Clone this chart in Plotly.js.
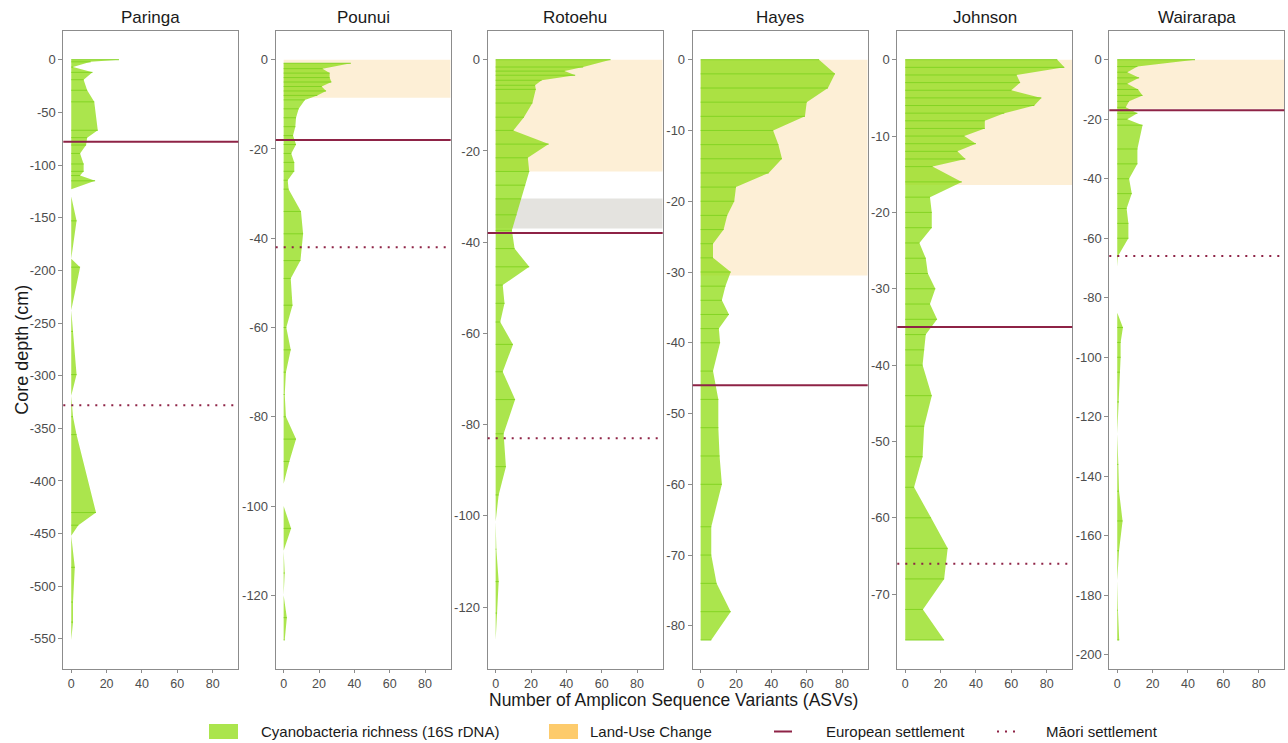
<!DOCTYPE html>
<html>
<head>
<meta charset="utf-8">
<script src="https://cdn.plot.ly/plotly-3.0.1.min.js"></script>
<style>
  html, body { margin: 0; padding: 0; background: #ffffff; }
  #chart { width: 1288px; height: 743px; }
</style>
</head>
<body>
<div id="chart"></div>
<script>
// ---- Data -------------------------------------------------------------
const lakes = ["Paringa", "Pounui", "Rotoehu", "Hayes", "Johnson", "Wairarapa"];

// Core depth (cm, negative downwards) and cyanobacterial ASV richness per sample
const paringaDepth = [0, -2, -7, -12, -19, -29, -40, -67, -74, -81, -89, -99, -106, -110, -115, -123,
                      -130, -153, -189, -197, -238, -258, -299, -319, -339, -356, -430, -442, -452, -482, -515, -534, -551];
const paringaASV   = [27, 11, 1, 12, 7, 9, 13, 15, 9, 8.4, 5, 7, 7, 5, 13.5, 0,
                      0, 3, 0, 5, 0, 1, 3, 0, 1, 3, 14, 4, 0, 2, 1, 1, 0];

const pounuiDepth = [-0.8, -2, -3, -4, -5, -6, -7, -8, -9, -11, -13, -15, -17, -19, -21, -23, -25, -27, -29,
                     -34, -39, -45, -49, -55, -60, -65, -70, -75, -80, -85, -90, -95, -100, -105, -110, -115, -120, -125, -130];
const pounuiASV   = [38, 22, 26, 26, 27, 21.5, 24, 19, 12, 8.5, 7, 6.6, 5.3, 7, 4.3, 6, 6, 2.3, 2.8,
                     9.8, 11, 9.5, 4, 5, 1.5, 4, 1.3, 0.6, 1.3, 7, 3.2, 0, 0, 4.2, 0, 0.6, 0, 1.8, 0.6];

const rotoehuDepth = [0, -1.6, -2.5, -3.4, -4.5, -5.6, -6.5, -9.5, -12.6, -15.5, -18.5, -21.5, -24.5, -27.5, -30.5, -34,
                      -37.4, -41.4, -45.4, -49.4, -53.4, -57.5, -62.4, -68.4, -74.5, -82, -89.2, -95.4, -101.2, -107.3, -114.4, -121.3, -127.2];
const rotoehuASV   = [65, 49.5, 39, 45, 26, 22.3, 22.7, 20.8, 16, 10, 30, 18.2, 19, 16.7, 14.3, 11.8,
                      9.2, 10.7, 19, 4, 5, 2.6, 9.8, 4, 11, 4.5, 5.8, 1.7, 0, 0.4, 1.7, 0.8, 0];

const hayesDepth = [0, -2, -4, -6, -8, -10, -12, -14, -16, -18, -20, -22, -24, -26, -28, -30, -32, -34, -36, -38, -40,
                    -44, -48, -52, -56, -60, -66, -70, -74, -78, -82];
const hayesASV   = [67, 76, 72, 60, 59, 41, 44, 46, 38.5, 20, 19, 15, 13, 7, 7, 17, 14, 12, 16, 10.3, 11,
                    7, 10, 10, 10.7, 12, 6, 6, 9, 17, 6];

const johnsonDepth = [0, -1, -2, -3, -4, -5, -6, -7, -8, -9, -10, -11, -12, -13, -14, -16, -18, -20, -22, -24, -26, -28,
                      -30, -32, -34, -36, -38, -40, -44, -48, -52, -56, -60, -64, -68, -72, -76];
const johnsonASV   = [86, 90, 63, 65, 60, 77, 73, 56, 45, 45, 33.4, 40, 29.5, 34, 15.4, 32, 14, 15, 15, 8, 11.6, 12.8,
                      17, 14, 18, 11.6, 10.7, 9.8, 15, 10.7, 9.8, 5, 14.6, 24, 22, 10, 22];

const wairarapaDepth = [0, -2.3, -4.2, -6.1, -8.1, -10, -12, -14, -16, -18, -20, -22, -30, -35, -40, -45, -50, -55, -60,
                        -66, -69.6, -85, -90, -95, -100, -105, -115, -125.6, -136, -145, -155, -165, -175, -181.5, -185, -195];
const wairarapaASV   = [44, 11.4, 5.7, 12.4, 5.7, 11.8, 14.3, 6.7, 4.8, 11.4, 5.7, 14.3, 11.4, 11.4, 6.7, 8.2, 5.3, 6.3, 6.3,
                        0.4, 0, 0, 3.2, 1.9, 1.9, 1.5, 1, 0, 0.6, 1, 3, 1, 0, 0, 0.4, 1.1];

const depths = [paringaDepth, pounuiDepth, rotoehuDepth, hayesDepth, johnsonDepth, wairarapaDepth];
const richness = [paringaASV, pounuiASV, rotoehuASV, hayesASV, johnsonASV, wairarapaASV];

// Settlement horizons (cm); null where not present
const europeanDepth = [-78, -18, -38, -46, -35, -17];
const maoriDepth    = [-328, -42, -83, null, -66, -66];

// Land-use change band (top, bottom) in cm; null where not present
const landUseTop    = [null, 0, 0, 0, 0, 0];
const landUseBottom = [null, -8.5, -24.5, -30.5, -16.4, -16.5];

// Additional grey band in the Rotoehu core (top, bottom)
const greyBandLake = "Rotoehu";
const greyBand = [-30.4, -37.0];

// Axis tick steps
const depthTickStep = [50, 20, 20, 10, 10, 20];
const asvTicks = [0, 20, 40, 60, 80];
const asvLimits = [0, 90];

// Legend labels
const legendLabels = ["Cyanobacteria richness (16S rDNA)", "Land-Use Change", "European settlement", "Māori settlement"];

// ---- Styling / geometry ------------------------------------------------
const W = 1288, H = 743;
const FONT = "Liberation Sans, Arial, Helvetica, sans-serif";
const panelLeftPx = [63.3, 275.7, 487.7, 692.7, 897.3, 1109.3];
const panelWidthPx = 175;
const plotTopPx = 30.7, plotBottomPx = 669;
const GREEN_FILL = "rgba(143,220,18,0.75)";
const GREEN_LINE = "#84D424";
const PEACH = "#FDEFD6";
const ORANGE = "#FDCB6C";
const GREYBAND = "#E4E3DF";
const MAROON = "#8E2346";
const FRAME = "#8c8c8c";

const px = x => x / W;
const py = y => (H - y) / H;

const xPad = (asvLimits[1] - asvLimits[0]) * 0.05;
const xRange = [asvLimits[0] - xPad, asvLimits[1] + xPad];

const traces = [];
const shapes = [];
const annotations = [];
const layout = {
  width: W, height: H,
  margin: {l: 0, r: 0, t: 0, b: 0},
  paper_bgcolor: "#ffffff",
  plot_bgcolor: "#ffffff",
  showlegend: false,
  font: {family: FONT, color: "#1a1a1a"},
  shapes: shapes,
  annotations: annotations
};

lakes.forEach((lake, i) => {
  const n = i + 1;
  const xa = n === 1 ? "x" : "x" + n;
  const ya = n === 1 ? "y" : "y" + n;
  const xKey = n === 1 ? "xaxis" : "xaxis" + n;
  const yKey = n === 1 ? "yaxis" : "yaxis" + n;

  const d = depths[i];
  const v = richness[i];
  const dMin = Math.min(...d), dMax = Math.max(0, ...d);
  const span = dMax - dMin;
  const yRange = [dMin - 0.05 * span, dMax + 0.05 * span];

  // richness profile as a filled area against x = 0
  traces.push({
    type: "scatter", mode: "lines",
    x: v, y: d,
    xaxis: xa, yaxis: ya,
    fill: "tozerox", fillcolor: GREEN_FILL,
    line: {width: 0, color: GREEN_FILL},
    hoverinfo: "skip"
  });

  // one horizontal stroke per sample, from 0 to the sample value
  const sx = [], sy = [];
  d.forEach((depth, k) => { sx.push(0, v[k], null); sy.push(depth, depth, null); });
  traces.push({
    type: "scatter", mode: "lines",
    x: sx, y: sy,
    xaxis: xa, yaxis: ya,
    line: {width: 1, color: GREEN_LINE},
    hoverinfo: "skip"
  });

  const left = panelLeftPx[i];
  layout[xKey] = {
    domain: [px(left), px(left + panelWidthPx)],
    range: xRange,
    anchor: ya,
    tickmode: "array",
    tickvals: asvTicks,
    ticktext: asvTicks.map(String),
    ticks: "outside", ticklen: 3, tickwidth: 1, tickcolor: FRAME,
    showline: true, mirror: true, linecolor: FRAME, linewidth: 1,
    showgrid: false, zeroline: false,
    tickfont: {family: FONT, size: 12.5, color: "#4d4d4d"},
    fixedrange: true
  };

  const yt = [];
  for (let t = 0; t >= yRange[0]; t -= depthTickStep[i]) yt.push(t);
  layout[yKey] = {
    domain: [py(plotBottomPx), py(plotTopPx)],
    range: yRange,
    anchor: xa,
    tickmode: "array",
    tickvals: yt,
    ticktext: yt.map(String),
    ticks: "outside", ticklen: 4, tickwidth: 1, tickcolor: FRAME,
    showline: true, mirror: true, linecolor: FRAME, linewidth: 1,
    showgrid: false, zeroline: false,
    tickfont: {family: FONT, size: 13, color: "#4d4d4d"},
    fixedrange: true
  };

  // land-use change band
  if (landUseTop[i] !== null) {
    shapes.push({
      type: "rect", layer: "below", xref: xa, yref: ya,
      x0: 0, x1: xRange[1], y0: landUseBottom[i], y1: landUseTop[i],
      fillcolor: PEACH, line: {width: 0}
    });
  }
  if (lake === greyBandLake) {
    shapes.push({
      type: "rect", layer: "below", xref: xa, yref: ya,
      x0: 0, x1: xRange[1], y0: greyBand[1], y1: greyBand[0],
      fillcolor: GREYBAND, line: {width: 0}
    });
  }

  // settlement horizons
  if (europeanDepth[i] !== null) {
    shapes.push({
      type: "line", layer: "above", xref: xa + " domain", yref: ya,
      x0: 0, x1: 1, y0: europeanDepth[i], y1: europeanDepth[i],
      line: {color: MAROON, width: 2}
    });
  }
  if (maoriDepth[i] !== null) {
    shapes.push({
      type: "line", layer: "above", xref: xa + " domain", yref: ya,
      x0: 0, x1: 1, y0: maoriDepth[i], y1: maoriDepth[i],
      line: {color: MAROON, width: 2, dash: "2px,6px"}
    });
  }

  // panel title
  annotations.push({
    xref: "paper", yref: "paper",
    x: px(left + panelWidthPx / 2), y: py(18),
    xanchor: "center", yanchor: "middle",
    text: lake, showarrow: false,
    font: {family: FONT, size: 17, color: "#1a1a1a"}
  });
});

// axis titles
annotations.push({
  xref: "paper", yref: "paper",
  x: px(22), y: py((plotTopPx + plotBottomPx) / 2),
  xanchor: "center", yanchor: "middle", textangle: -90,
  text: "Core depth (cm)", showarrow: false,
  font: {family: FONT, size: 18, color: "#1a1a1a"}
});
annotations.push({
  xref: "paper", yref: "paper",
  x: px((panelLeftPx[0] + panelLeftPx[5] + panelWidthPx) / 2), y: py(700),
  xanchor: "center", yanchor: "middle",
  text: "Number of Amplicon Sequence Variants (ASVs)", showarrow: false,
  font: {family: FONT, size: 17.5, color: "#1a1a1a"}
});

// legend (keys + labels)
const legY = 731.5;
shapes.push({type: "rect", xref: "paper", yref: "paper",
  x0: px(209), x1: px(238), y0: py(legY + 7.5), y1: py(legY - 7.5),
  fillcolor: GREEN_FILL, line: {width: 0}});
shapes.push({type: "rect", xref: "paper", yref: "paper",
  x0: px(549), x1: px(578), y0: py(legY + 7.5), y1: py(legY - 7.5),
  fillcolor: ORANGE, line: {width: 0}});
shapes.push({type: "line", xref: "paper", yref: "paper",
  x0: px(774), x1: px(792), y0: py(legY), y1: py(legY),
  line: {color: MAROON, width: 2}});
shapes.push({type: "line", xref: "paper", yref: "paper",
  x0: px(997), x1: px(1016), y0: py(legY), y1: py(legY),
  line: {color: MAROON, width: 2, dash: "2px,6px"}});

const legTextX = [259, 588, 824, 1044];
legendLabels.forEach((lab, k) => {
  annotations.push({
    xref: "paper", yref: "paper",
    x: px(legTextX[k]), y: py(legY),
    xanchor: "left", yanchor: "middle",
    text: lab, showarrow: false,
    font: {family: FONT, size: 15, color: "#1a1a1a"}
  });
});

Plotly.newPlot("chart", traces, layout, {displayModeBar: false, staticPlot: true});
</script>
</body>
</html>
